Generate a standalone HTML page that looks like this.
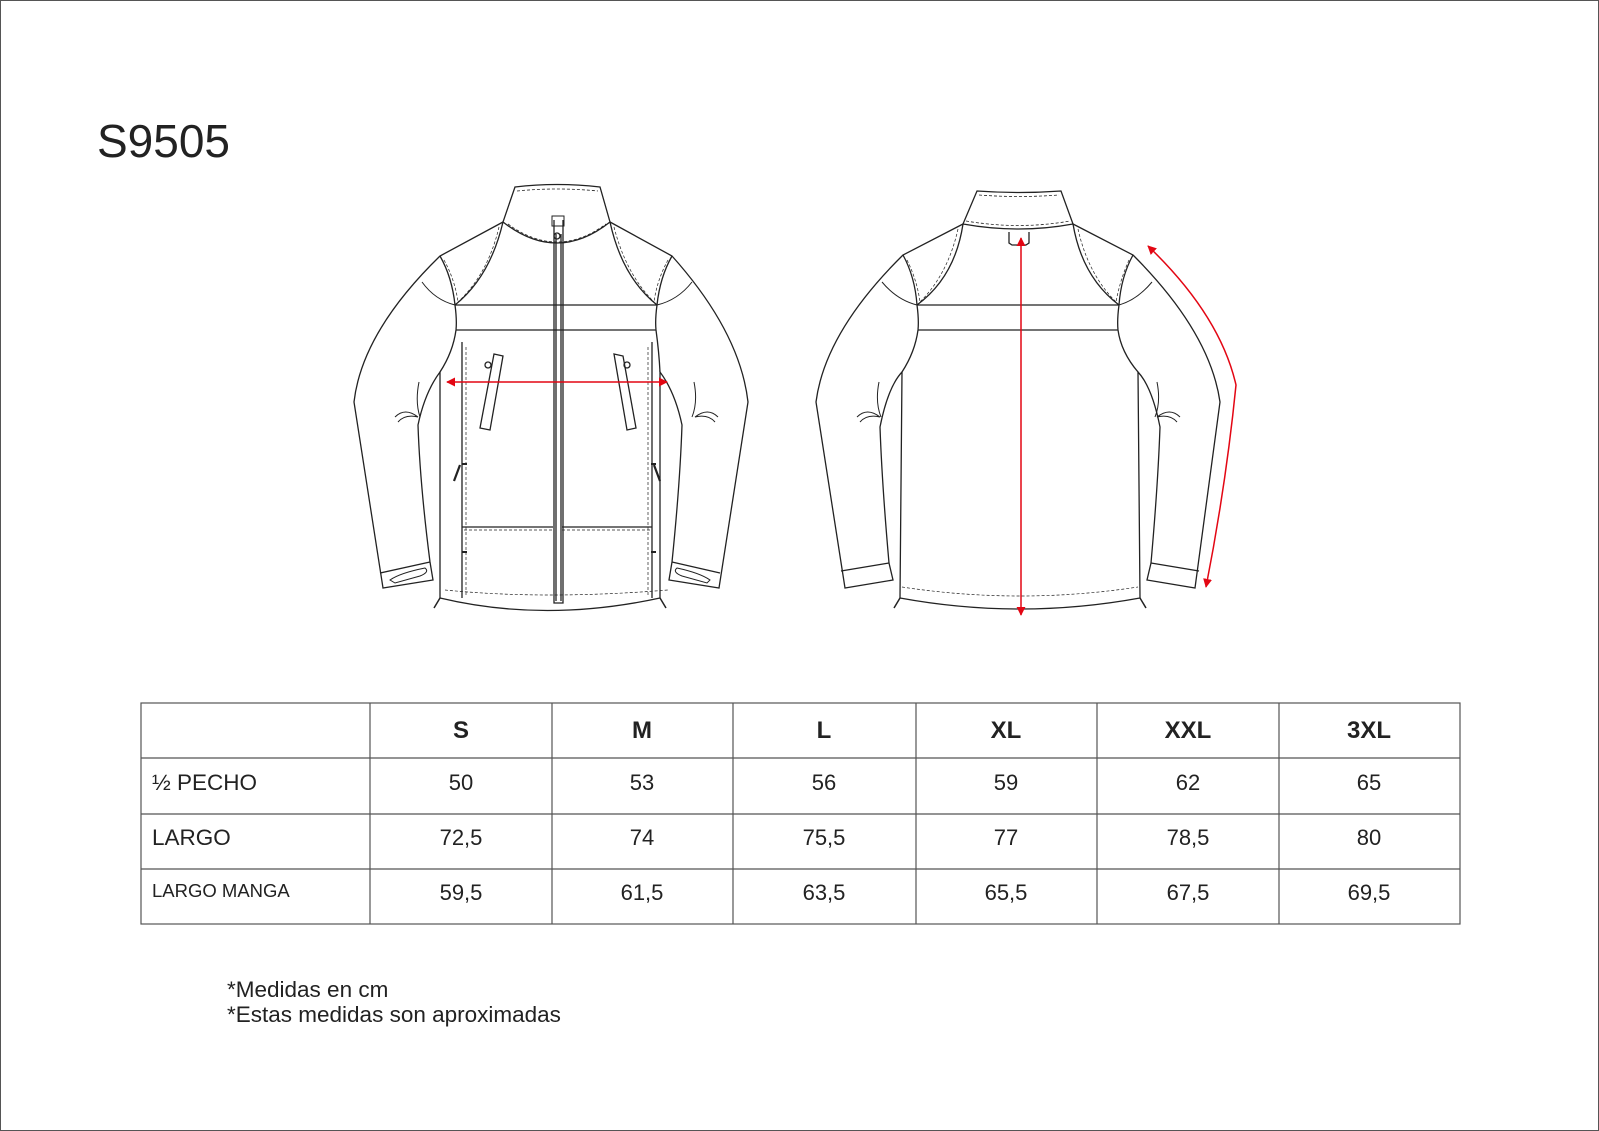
<!DOCTYPE html>
<html><head><meta charset="utf-8"><style>
html,body{margin:0;padding:0;background:#fff}
svg{display:block}
text{font-family:"Liberation Sans",Arial,sans-serif;fill:#222}
</style></head><body>
<svg width="1599" height="1131" viewBox="0 0 1599 1131" xmlns="http://www.w3.org/2000/svg">
<defs>
<marker id="ah" viewBox="0 0 10 10" refX="9" refY="5" markerWidth="9" markerHeight="9" orient="auto-start-reverse" markerUnits="userSpaceOnUse"><path d="M0,0 L10,5 L0,10 z" fill="#e30613"/></marker>
</defs>
<rect x="0.5" y="0.5" width="1598" height="1130" fill="#fff" stroke="#555" stroke-width="1"/>
<text x="97" y="157" font-size="46">S9505</text>

<!-- FRONT JACKET -->
<g fill="none" stroke="#222" stroke-width="1.3">
  <path d="M515,187 Q557,182 600,187 L610,222 Q557,264 503,222 Z"/>
  <path d="M517,191 Q557,187 598,191" stroke-dasharray="3,2" stroke-width="0.8"/>
  <path d="M508,224 Q557,260 606,224" stroke-dasharray="3,2" stroke-width="0.8"/>
  <path d="M503,222 L440,256 Q362,332 354,402 L383,588 L433,580 L430,562 Q420,484 418,425 Q425,392 440,372 L440,598 Q545,623 660,598 L660,372 Q675,392 682,425 Q680,484 672,562 L669,580 L719,588 L748,402 Q740,332 672,256 L610,222"/>
  <path d="M380,573 L430,562 M720,573 L672,562"/>
  <path d="M390,580 Q400,573 425,568 Q430,572 420,576 L395,583 Z M710,580 Q700,573 677,568 Q672,572 682,576 L707,583 Z" stroke-width="1"/>
  <path d="M440,256 Q452,277 455,305 M672,256 Q660,277 657,305"/>
  <path d="M503,222 Q490,277 455,305 M610,222 Q622,277 657,305"/>
  <path d="M422,282 Q435,300 455,305 M692,282 Q678,300 657,305" stroke-width="1"/>
  <path d="M499,227 Q488,274 458,302 M614,227 Q626,274 654,302 M444,260 Q455,280 458,302 M668,260 Q657,280 654,302" stroke-dasharray="3,2" stroke-width="0.7"/>
  <path d="M455,305 L657,305 M456,330 L656,330"/>
  <path d="M455,305 Q457,320 456,330 Q453,352 440,372 M657,305 Q655,320 656,330 Q659,352 660,372"/>
  <path d="M462,342 L462,598 M652,342 L652,598"/>
  <path d="M466,347 L466,596 M648,347 L648,596 M445,590 Q545,600 668,590" stroke-dasharray="3,2" stroke-width="0.7"/>
  <path d="M462,527 L553,527 M562,527 L652,527"/>
  <path d="M464,530 L553,530 M562,530 L650,530" stroke-dasharray="3,2" stroke-width="0.7"/>
  <path d="M554,220 L554,603 L563,603 L563,220 M556,234 L556,601 M561,234 L561,601"/>
  <rect x="552" y="216" width="12" height="10" stroke-width="1"/>
  <circle cx="557" cy="236" r="3"/>
  <path d="M494,354 L503,356 L490,430 L480,428 Z M614,354 L623,356 L636,428 L627,430 Z"/>
  <circle cx="488" cy="365" r="3"/><circle cx="627" cy="365" r="3"/>
  <path d="M460,465 L454,481 M654,465 L660,481" stroke-width="2.2"/>
  <path d="M462,464 L467,464 M651,464 L656,464 M462,552 L467,552 M651,552 L656,552" stroke-width="2"/>
  <path d="M419,382 Q415,402 420,417 M395,417 Q405,407 418,417 Q405,414 398,422 M694,382 Q698,402 692,417 M718,417 Q708,407 695,417 Q708,414 715,422" stroke-width="1"/>
  <path d="M440,598 L434,608 M660,598 L666,608" stroke-width="1.5"/>
</g>
<line x1="447" y1="382" x2="667" y2="382" stroke="#e30613" stroke-width="1.5" marker-start="url(#ah)" marker-end="url(#ah)"/>

<!-- BACK JACKET -->
<g fill="none" stroke="#222" stroke-width="1.3">
  <path d="M977,191 Q1019,194 1061,191 L1073,224 Q1019,234 963,224 Z"/>
  <path d="M979,195 Q1019,198 1059,195 M966,221 Q1019,230 1070,221" stroke-dasharray="3,2" stroke-width="0.8"/>
  <path d="M963,224 L903,255 Q825,332 816,402 L845,588 L893,580 L889,563 Q882,484 880,427 Q888,387 902,372 L900,598 Q1020,620 1140,598 L1138,372 Q1152,387 1160,427 Q1158,484 1151,563 L1147,580 L1195,588 L1220,402 Q1210,332 1133,255 L1073,224"/>
  <path d="M841,571 L889,563 M1199,571 L1151,563"/>
  <path d="M903,255 Q915,277 917,305 M1133,255 Q1121,277 1119,305"/>
  <path d="M963,224 Q955,277 917,305 M1073,224 Q1082,277 1119,305"/>
  <path d="M882,282 Q897,300 917,305 M1152,282 Q1137,300 1119,305" stroke-width="1"/>
  <path d="M958,229 Q948,274 920,302 M1078,229 Q1088,274 1116,302 M907,260 Q917,280 920,302 M1129,260 Q1120,280 1116,302 M902,587 Q1020,605 1138,587" stroke-dasharray="3,2" stroke-width="0.7"/>
  <path d="M917,305 L1119,305 M918,330 L1118,330"/>
  <path d="M917,305 Q919,320 918,330 Q915,352 902,372 M1119,305 Q1117,320 1118,330 Q1121,352 1138,372"/>
  <path d="M1009,232 L1009,243 L1012,245 L1026,245 L1029,243 L1029,232"/>
  <path d="M879,382 Q875,402 881,417 M857,417 Q867,407 880,417 Q867,414 860,422 M1157,382 Q1161,402 1155,417 M1180,417 Q1170,407 1157,417 Q1170,414 1177,422" stroke-width="1"/>
  <path d="M900,598 L894,608 M1140,598 L1146,608" stroke-width="1.5"/>
</g>
<line x1="1021" y1="238" x2="1021" y2="615" stroke="#e30613" stroke-width="1.5" marker-start="url(#ah)" marker-end="url(#ah)"/>
<path d="M1148,246 Q1220,315 1236,385 Q1226,485 1206,587" fill="none" stroke="#e30613" stroke-width="1.5" marker-start="url(#ah)" marker-end="url(#ah)"/>

<!-- TABLE -->
<g stroke="#555" stroke-width="1.2" fill="none">
  <rect x="141" y="703" width="1319" height="221"/>
  <path d="M141,758 H1460 M141,814 H1460 M141,869 H1460"/>
  <path d="M370,703 V924 M552,703 V924 M733,703 V924 M916,703 V924 M1097,703 V924 M1279,703 V924"/>
</g>
<g font-size="24" font-weight="bold" text-anchor="middle">
  <text x="461" y="738">S</text><text x="642" y="738">M</text><text x="824" y="738">L</text>
  <text x="1006" y="738">XL</text><text x="1188" y="738">XXL</text><text x="1369" y="738">3XL</text>
</g>
<g font-size="22" text-anchor="middle">
  <text x="461" y="790">50</text><text x="642" y="790">53</text><text x="824" y="790">56</text><text x="1006" y="790">59</text><text x="1188" y="790">62</text><text x="1369" y="790">65</text>
  <text x="461" y="845">72,5</text><text x="642" y="845">74</text><text x="824" y="845">75,5</text><text x="1006" y="845">77</text><text x="1188" y="845">78,5</text><text x="1369" y="845">80</text>
  <text x="461" y="900">59,5</text><text x="642" y="900">61,5</text><text x="824" y="900">63,5</text><text x="1006" y="900">65,5</text><text x="1188" y="900">67,5</text><text x="1369" y="900">69,5</text>
</g>
<text x="152" y="790" font-size="22.5">½ PECHO</text>
<text x="152" y="845" font-size="22.5">LARGO</text>
<text x="152" y="897" font-size="18.5">LARGO MANGA</text>
<text x="227" y="997" font-size="22.5">*Medidas en cm</text>
<text x="227" y="1022" font-size="22.5">*Estas medidas son aproximadas</text>
</svg>
</body></html>
